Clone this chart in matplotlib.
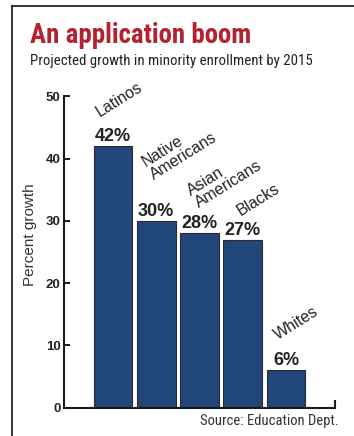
import matplotlib
matplotlib.use("Agg")
import matplotlib.pyplot as plt
from matplotlib.lines import Line2D

# data
groups = ["Latinos", "Native\nAmericans", "Asian\nAmericans", "Blacks", "Whites"]
growth = [42, 30, 28, 27, 6]
y_ticks = [0, 10, 20, 30, 40, 50]

# hand placement of the slanted group labels (pixels from bar top centre)
label_offsets = [(-12, 27), (-1, 38.5), (1, 22.5), (0, 21.5), (-6, 27.5)]

bar_color = "#21467A"
title_red = "#B3222E"
text_dark = "#222222"

plt.rcParams["font.family"] = ["Liberation Sans", "DejaVu Sans"]
cond = ["Roboto Condensed", "DejaVu Sans"]

fig = plt.figure(figsize=(3.54, 4.36), dpi=100, facecolor="white")
ax = fig.add_axes([63.5 / 354, 1 - 407.7 / 436, 271.5 / 354, 311.2 / 436])

x = list(range(len(growth)))
ax.bar(x, growth, width=0.9, color=bar_color, edgecolor="#2b2b2b", linewidth=0.8)

ax.set_xlim(-1.144, 5.133)
ax.set_ylim(0, 50)
ax.set_yticks(y_ticks)
ax.set_xticks([])
ax.tick_params(axis="y", direction="in", length=4, width=1.4, pad=2,
               labelsize=9.5, labelcolor=text_dark, color="#1a1a1a")
for lab in ax.get_yticklabels():
    lab.set_fontweight("bold")

ax.spines["top"].set_visible(False)
for side in ["left", "bottom", "right"]:
    ax.spines[side].set_linewidth(1.5)
    ax.spines[side].set_color("#1a1a1a")
ax.spines["right"].set_bounds(0, 1)

for i, (g, v) in enumerate(zip(groups, growth)):
    ax.annotate(f"{v}%", xy=(i, v), xytext=(0, 5), textcoords="offset pixels",
                ha="center", va="baseline", fontsize=13, fontweight="bold",
                color=text_dark)
    dx, dy = label_offsets[i]
    ax.annotate(g, xy=(i, v), xytext=(dx, dy), textcoords="offset pixels",
                ha="left", va="bottom", rotation=32, rotation_mode="anchor",
                fontsize=11.5, color=text_dark, linespacing=1.0)

fig.text(30 / 354, 1 - 235 / 436, "Percent growth", rotation=90,
         ha="center", va="center", fontsize=11, color="#333333")

fig.text(30 / 354, 1 - 43 / 436, "An application boom",
         family=cond, fontweight="bold",
         fontsize=19.4, color=title_red, ha="left", va="baseline")
fig.text(30 / 354, 1 - 65 / 436, "Projected growth in minority enrollment by 2015",
         family=cond, fontsize=10.7, color=text_dark, ha="left", va="baseline")
fig.text(338 / 354, 1 - 424.5 / 436, "Source: Education Dept.",
         family=cond, fontsize=10.5, color="#333333", ha="right", va="baseline")

# frame lines at top and left
fx = 12 / 354
fy = 1 - 6 / 436
fig.add_artist(Line2D([fx, 1], [fy, fy], color="#111111", linewidth=1.2))
fig.add_artist(Line2D([fx, fx], [0, fy], color="#111111", linewidth=1.2))

fig.savefig("out.png", dpi=100, facecolor="white")
